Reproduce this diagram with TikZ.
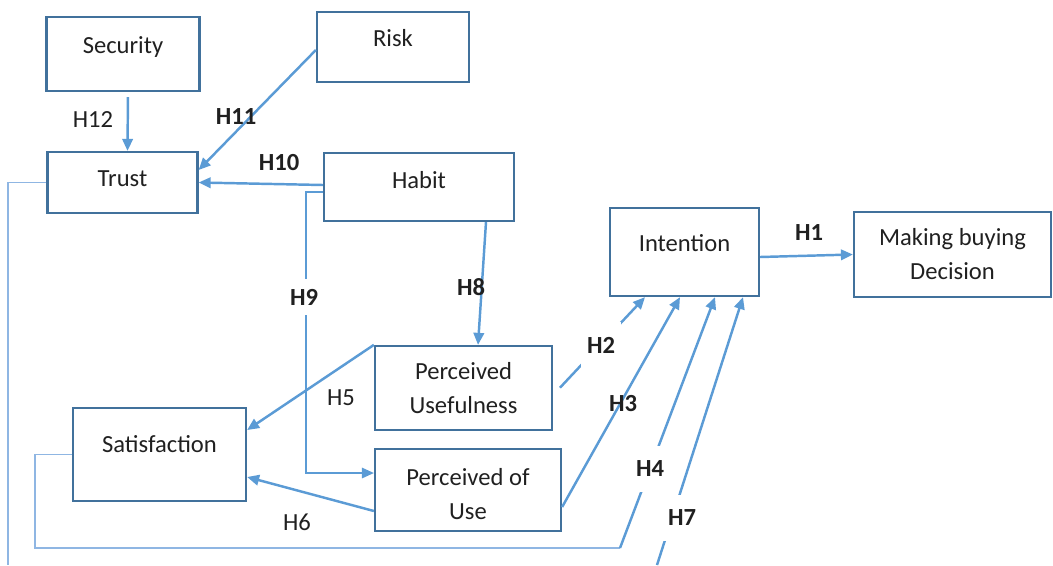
\documentclass[tikz,border=0pt]{standalone}
\usepackage{fontspec}
\setmainfont{Carlito}
\usepackage{xcolor}
\usepackage{tikz}
\usetikzlibrary{arrows.meta,positioning}
\definecolor{boxBlue}{HTML}{41719C}
\definecolor{lineBlue}{HTML}{5B9BD5}
\definecolor{softLine}{HTML}{8FB6E3}
\definecolor{textGray}{HTML}{202020}

\begin{document}
\begin{tikzpicture}[x=0.02cm, y=-0.02cm, >={Triangle[length=0.24cm,width=0.21cm]},
    font=\fontsize{14pt}{19.4pt}\selectfont, text=textGray,
    box/.style={draw=boxBlue, line width=1.3pt, align=center, inner sep=0pt},
    lift/.style={text height=0.64em, text depth=#1},
    link/.style={draw=lineBlue, line width=1.4pt, ->},
    wire/.style={draw=softLine, line width=0.9pt},
    hyp/.style={font=\fontsize{14pt}{16pt}\selectfont\bfseries},
    gap/.style={fill=white, inner xsep=0.12cm, inner ysep=0.3cm}]
    \useasboundingbox (0,0) rectangle (1053,565);

    % constructs
    \node[box, lift=0.24cm, minimum width=3.06cm, minimum height=1.48cm] (sec) at (123,54) {Security};
    \node[box, lift=0.24cm, minimum width=3.04cm, minimum height=1.40cm] (risk) at (393,47) {Risk};
    \node[box, lift=0.06cm, minimum width=3.0cm, minimum height=1.22cm] (trust) at (122.5,182.5) {Trust};
    \node[box, lift=0.16cm, minimum width=3.8cm, minimum height=1.36cm] (habit) at (419,187) {Habit};
    \node[box, lift=0.24cm, minimum width=2.98cm, minimum height=1.76cm] (intent) at (684.5,252) {Intention};
    \node[box, minimum width=3.94cm, minimum height=1.70cm] (decide) at (952.5,254.5) {Making buying\\Decision};
    \node[box, minimum width=3.54cm, minimum height=1.68cm] (useful) at (463.5,388) {Perceived\\Usefulness};
    \node[box, lift=0.30cm, minimum width=3.46cm, minimum height=1.86cm] (satisf) at (159.5,454.5) {Satisfaction};
    \node[box, minimum width=3.72cm, minimum height=1.64cm] (easeuse) at (468,490) {\rule{0pt}{14pt}Perceived of\\Use};

    \coordinate (h9bend) at (306,473);
    \coordinate (h4low) at (35,548);
    \coordinate (h4turn) at (620,548);
    \coordinate (h7low) at (8,565);
    \coordinate (h7in) at (657,565);

    % paths
    \draw[link, shorten <=0.1cm] ([xshift=0.1cm]sec.south) -- ([xshift=0.1cm]trust.north);
    \draw[link] ([yshift=-0.06cm]risk.west) -- ([yshift=0.25cm]trust.east);
    \draw[link] ([yshift=0.04cm]habit.west) -- (trust.east);
    \draw[link, line width=0.9pt] ([yshift=-0.1cm]habit.west) -| (h9bend) -- ([yshift=0.34cm]easeuse.west);
    \draw[link] ([xshift=1.34cm]habit.south) -- ([xshift=0.29cm]useful.north);
    \draw[link] (useful.north west) -- ([yshift=0.49cm]satisf.east);
    \draw[link] ([yshift=-0.42cm]easeuse.west) -- ([yshift=-0.45cm]satisf.east);
    \draw[link, shorten <=0.2cm] ([yshift=-0.14cm]useful.east) -- ([xshift=-0.79cm]intent.south);
    \draw[link] ([yshift=-0.34cm]easeuse.east) -- ([xshift=-0.09cm]intent.south);
    \draw[wire] (satisf.west) -| (h4low) -- (h4turn);
    \draw[link] (h4turn) -- ([xshift=0.61cm]intent.south);
    \draw[wire] (trust.west) -| (h7low);
    \draw[link] (h7in) -- ([xshift=1.17cm]intent.south);
    \draw[link] ([yshift=-0.1cm]intent.east) -- (decide.west);

    % hypotheses
    \node (l12) at (93,120) {H12};
    \node[hyp] (l11) at (236,117) {H11};
    \node[hyp] (l10) at (279,163) {H10};
    \node[hyp, gap, inner ysep=0.2cm] (l9) at (304,297) {H9};
    \node[hyp] (l8) at (471,287) {H8};
    \node (l5) at (341,398) {H5};
    \node (l6) at (297,522) {H6};
    \node[hyp, gap] (l2) at (601,345) {H2};
    \node[hyp] (l3) at (623,404) {H3};
    \node[hyp, gap] (l4) at (650,469) {H4};
    \node[hyp, gap] (l7) at (682,518) {H7};
    \node[hyp] (l1) at (809,233) {H1};
\end{tikzpicture}
\end{document}
